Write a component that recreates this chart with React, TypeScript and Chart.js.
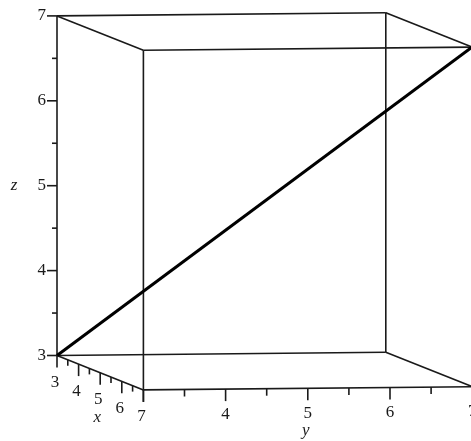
import { useEffect, useRef } from 'react';
import { Chart, registerables } from 'chart.js';

Chart.register(...registerables);

const W = 471;
const H = 441;

// extents of the bounding box
const xRange = [3, 7];
const yRange = [3, 7];
const zRange = [3, 7];

// the space line that is plotted
const curveX = [3, 7];
const curveY = [3, 7];
const curveZ = [3, 7];

// tick values and labels of the three axes
const xTicks = [3, 4, 5, 6, 7];
const xTickLabels = ['3', '4', '5', '6', '7'];
const yTicks = [4, 5, 6, 7];
const yTickLabels = ['4', '5', '6', '7'];
const zTicks = [3, 4, 5, 6, 7];
const zTickLabels = ['3', '4', '5', '6', '7'];
const minorStep = 0.5;

// orthographic view: screen position of the box origin and screen step per unit of x, y, z
const view = { ox: 57, oy: 355.5, ex: [21.6, 8.6], ey: [82.2, -0.8], ez: [0, -84.9] };

function project(x: number, y: number, z: number) {
  const dx = x - xRange[0];
  const dy = y - yRange[0];
  const dz = z - zRange[0];
  return {
    x: view.ox + dx * view.ex[0] + dy * view.ey[0] + dz * view.ez[0],
    y: view.oy + dx * view.ex[1] + dy * view.ey[1] + dz * view.ez[1],
  };
}

// the twelve edges of the box
function boxEdges() {
  const edges: { x: number; y: number }[][] = [];
  for (const a of xRange) for (const b of yRange) edges.push([project(a, b, zRange[0]), project(a, b, zRange[1])]);
  for (const a of xRange) for (const c of zRange) edges.push([project(a, yRange[0], c), project(a, yRange[1], c)]);
  for (const b of yRange) for (const c of zRange) edges.push([project(xRange[0], b, c), project(xRange[1], b, c)]);
  return edges;
}

const SERIF = '"Liberation Serif", "DejaVu Serif", serif';
const INK = '#1a1a1a';

function steps(lo: number, hi: number) {
  const out: number[] = [];
  for (let v = lo; v <= hi + 1e-9; v += minorStep) out.push(v);
  return out;
}

const axesPlugin = {
  id: 'boxAxes',
  afterDatasetsDraw(chart: any) {
    const ctx = chart.ctx as CanvasRenderingContext2D;
    const sx = chart.scales.x;
    const sy = chart.scales.y;
    const px = (p: { x: number; y: number }) => ({ x: sx.getPixelForValue(p.x), y: sy.getPixelForValue(p.y) });
    const isMajor = (v: number) => Math.abs(v - Math.round(v)) < 1e-6;

    ctx.save();
    ctx.strokeStyle = INK;
    ctx.fillStyle = INK;
    ctx.lineWidth = 1.6;

    // z axis on the back-left vertical edge, ticks pointing left
    for (const v of steps(zRange[0], zRange[1])) {
      const p = px(project(xRange[0], yRange[0], v));
      const len = isMajor(v) ? 10 : 5;
      ctx.beginPath();
      ctx.moveTo(p.x - len, p.y);
      ctx.lineTo(p.x, p.y);
      ctx.stroke();
    }
    // x axis on the bottom-left slanted edge, ticks pointing down
    for (const v of steps(xRange[0], xRange[1])) {
      const p = px(project(v, yRange[0], zRange[0]));
      const len = isMajor(v) ? 12 : 6;
      ctx.beginPath();
      ctx.moveTo(p.x, p.y);
      ctx.lineTo(p.x, p.y + len);
      ctx.stroke();
    }
    // y axis on the front bottom edge, ticks pointing down
    for (const v of steps(yRange[0], yRange[1])) {
      const p = px(project(xRange[1], v, zRange[0]));
      const len = isMajor(v) ? 12 : 7;
      ctx.beginPath();
      ctx.moveTo(p.x, p.y);
      ctx.lineTo(p.x, p.y + len);
      ctx.stroke();
    }

    ctx.font = `17px ${SERIF}`;
    ctx.textBaseline = 'middle';

    ctx.textAlign = 'right';
    zTicks.forEach((v, i) => {
      const p = px(project(xRange[0], yRange[0], v));
      ctx.fillText(zTickLabels[i], p.x - 11, p.y);
    });

    ctx.textAlign = 'center';
    xTicks.forEach((v, i) => {
      const p = px(project(v, yRange[0], zRange[0]));
      ctx.fillText(xTickLabels[i], p.x - 2, p.y + 27);
    });
    yTicks.forEach((v, i) => {
      const p = px(project(xRange[1], v, zRange[0]));
      ctx.fillText(yTickLabels[i], p.x, p.y + 25);
    });

    // axis titles
    ctx.font = `italic 17px ${SERIF}`;
    const zMid = (zRange[0] + zRange[1]) / 2;
    const xMid = (xRange[0] + xRange[1]) / 2;
    const yMid = (yRange[0] + yRange[1]) / 2;
    const pz = px(project(xRange[0], yRange[0], zMid));
    ctx.fillText('z', pz.x - 43, pz.y);
    const pxm = px(project(xMid, yRange[0], zRange[0]));
    ctx.fillText('x', pxm.x - 3, pxm.y + 45);
    const pym = px(project(xRange[1], yMid, zRange[0]));
    ctx.fillText('y', pym.x - 2, pym.y + 42);

    ctx.restore();
  },
};

export default function App() {
  const canvasRef = useRef<HTMLCanvasElement | null>(null);

  useEffect(() => {
    document.body.style.margin = '0';
    const canvas = canvasRef.current;
    if (!canvas) return;

    const edgeSets = boxEdges().map((e) => ({
      data: e,
      showLine: true,
      borderColor: INK,
      borderWidth: 1.6,
      pointRadius: 0,
      order: 2,
    }));

    const curve = curveX.map((x, i) => project(x, curveY[i], curveZ[i]));

    const chart = new Chart(canvas, {
      type: 'scatter',
      data: {
        datasets: [
          ...edgeSets,
          {
            data: curve,
            showLine: true,
            borderColor: '#000000',
            borderWidth: 3,
            pointRadius: 0,
            order: 1,
          },
        ],
      },
      options: {
        animation: false,
        responsive: false,
        devicePixelRatio: 1,
        layout: { padding: 0 },
        plugins: { legend: { display: false }, tooltip: { enabled: false } },
        scales: {
          x: { type: 'linear', min: 0, max: W, display: false },
          y: { type: 'linear', min: 0, max: H, reverse: true, display: false },
        },
      },
      plugins: [axesPlugin],
    });

    return () => chart.destroy();
  }, []);

  return (
    <div style={{ width: W, height: H, background: '#ffffff' }}>
      <canvas ref={canvasRef} width={W} height={H} />
    </div>
  );
}
